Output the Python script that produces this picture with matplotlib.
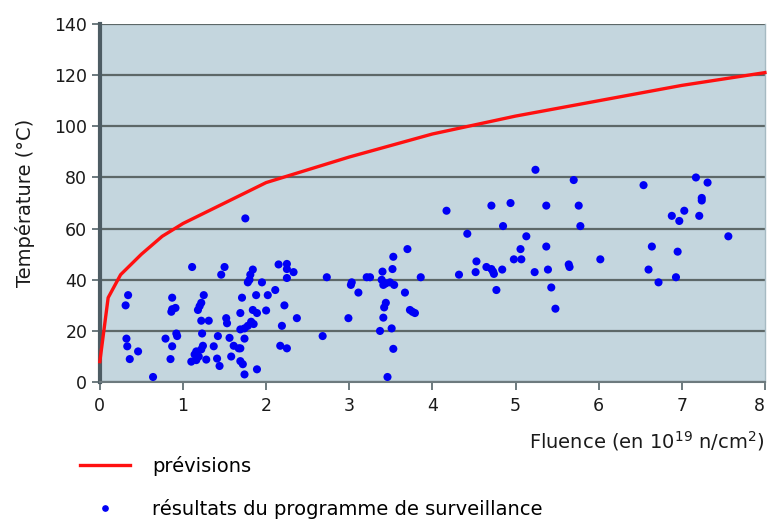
import matplotlib
matplotlib.use('Agg')
import matplotlib.pyplot as plt
from matplotlib.lines import Line2D
import matplotlib.transforms as mtransforms

# courbe de prévision
prev_x = [0, 0.1, 0.25, 0.5, 0.75, 1, 1.5, 2, 2.5, 3, 4, 5, 6, 7, 8]
prev_y = [8, 33, 42, 50, 57, 62, 70, 78, 83, 88, 97, 104, 110, 116, 121]

# résultats du programme de surveillance
surv_x = [0.34, 0.31, 0.32, 0.33, 0.46, 0.36, 0.64,
          0.87, 0.87, 0.91, 0.86, 0.92, 0.93, 0.79, 0.87, 0.85,
          1.11, 1.25, 1.22, 1.20, 1.18, 1.22, 1.31, 1.23, 1.24, 1.22, 1.16, 1.14, 1.19, 1.10, 1.16, 1.28,
          1.50, 1.46, 1.52, 1.53, 1.42, 1.37, 1.41, 1.44,
          1.56, 1.61, 1.67, 1.58, 1.75, 1.84, 1.81, 1.80, 1.78, 1.95, 1.88, 1.71, 2.00, 1.84, 1.89, 1.69,
          1.82, 1.85, 1.78, 1.74, 1.69, 1.74, 1.69, 1.69, 1.72, 1.74, 1.89,
          2.15, 2.25, 2.25, 2.33, 2.25, 2.11, 2.02, 2.22, 2.37, 2.19, 2.17, 2.25, 2.68, 2.73, 2.99,
          3.03, 3.02, 3.11, 3.21, 3.25, 3.39, 3.44, 3.49, 3.54, 3.41, 3.40, 3.52, 3.53, 3.70, 3.86, 3.67,
          3.73, 3.79, 3.76, 3.44, 3.42, 3.41, 3.37, 3.51, 3.53, 3.46,
          4.17, 4.71, 4.94, 4.85, 4.42, 4.53, 4.52, 4.65, 4.71, 4.74, 4.73, 4.84, 4.32, 4.77, 4.98,
          5.24, 5.37, 5.13, 5.06, 5.37, 5.07, 5.23, 5.39, 5.43, 5.48, 5.70, 5.76, 5.78, 5.64, 5.65,
          6.02, 6.54, 6.64, 6.60, 6.93, 6.72, 7.17, 7.31, 7.24, 7.24, 7.03, 6.88, 6.97, 7.21, 7.56, 6.95]
surv_y = [34, 30, 17, 14, 12, 9, 2,
          33, 28.5, 29, 27.5, 19, 18, 17, 14, 9,
          45, 34, 31, 29.7, 28.2, 24, 24, 19, 14.2, 12.8, 12, 10.8, 10, 8, 8.6, 8.8,
          45, 42, 25, 23, 18, 14, 9.2, 6.3,
          17.3, 14.2, 13.2, 10, 64, 44, 42, 40, 39, 39, 34, 33, 28, 28.2, 27, 27,
          23.6, 22.7, 22, 21, 20.6, 17, 13.2, 8.2, 7, 3, 5,
          46, 46.2, 44.2, 43, 40.7, 36, 34, 30, 25, 22, 14.2, 13.2, 18, 41, 25,
          39, 38, 35, 41, 41, 40, 38.6, 39, 38, 38, 43.2, 44.2, 49, 52, 41, 35,
          28.2, 27, 27.5, 31, 29.2, 25.2, 20, 21, 13, 2,
          67, 69, 70, 61, 58, 47.2, 43, 45, 44.2, 42.3, 43.2, 44, 42, 36, 48,
          83, 69, 57, 52, 53, 48, 43, 44, 37, 28.7, 79, 69, 61, 46, 45,
          48, 77, 53, 44, 41, 39, 80, 78, 72, 71, 67, 65, 63, 65, 57, 51]

yticks = [0, 20, 40, 60, 80, 100, 120, 140]
xticks = [0, 1, 2, 3, 4, 5, 6, 7, 8]

plt.rcParams['font.family'] = ['DejaVu Sans']

fig = plt.figure(figsize=(7.68, 5.22), dpi=100)
ax = fig.add_axes([0.130, 0.268, 0.866, 0.686])
ax.set_facecolor('#c4d6de')

ax.set_xlim(0, 8)
ax.set_ylim(0, 140)
ax.set_xticks(xticks)
ax.set_yticks(yticks)
ax.yaxis.grid(True, color='#5d6868', linewidth=1.6)
ax.set_axisbelow(True)

ax.plot(prev_x, prev_y, color='#ff1010', linewidth=2.4, zorder=4, clip_on=False)
ax.scatter(surv_x, surv_y, s=34, color='#0000f5', edgecolors='none', zorder=3, clip_on=False)

ax.spines['top'].set_visible(False)
ax.spines['left'].set_color('#4d5c63')
ax.spines['left'].set_linewidth(3)
ax.spines['bottom'].set_color('#6d7a7e')
ax.spines['bottom'].set_linewidth(1.5)
ax.spines['right'].set_color('#a6bac2')
ax.spines['right'].set_linewidth(1)

ax.tick_params(axis='both', direction='out', length=6, width=1.4, color='#6d7a7e',
               labelsize=12.5, labelcolor='#1a1a1a')
ax.tick_params(axis='y', pad=3)
ax.tick_params(axis='x', pad=5)

# le dernier label "8" est décalé pour rester dans l'image
fig.canvas.draw()
last = ax.get_xticklabels()[-1]
last.set_transform(last.get_transform() + mtransforms.ScaledTranslation(-4 / 72, 0, fig.dpi_scale_trans))

ax.set_ylabel('Température (°C)', fontsize=14, color='#1a1a1a', labelpad=14)
fig.text(0.996, 0.155, 'Fluence (en 10$^{19}$ n/cm$^{2}$)', fontsize=14, color='#1a1a1a',
         ha='right', va='center')

handles = [Line2D([], [], color='#ff1010', linewidth=2.4),
           Line2D([], [], color='#0000f5', marker='o', markersize=3.8, linestyle='none')]
fig.legend(handles, ['prévisions', 'résultats du programme de surveillance'],
           loc='upper left', bbox_to_anchor=(0.104, 0.127), frameon=False,
           fontsize=14, handlelength=2.6, handletextpad=1.1, labelspacing=1.2,
           borderaxespad=0, borderpad=0)

fig.savefig('out.png', dpi=100)
